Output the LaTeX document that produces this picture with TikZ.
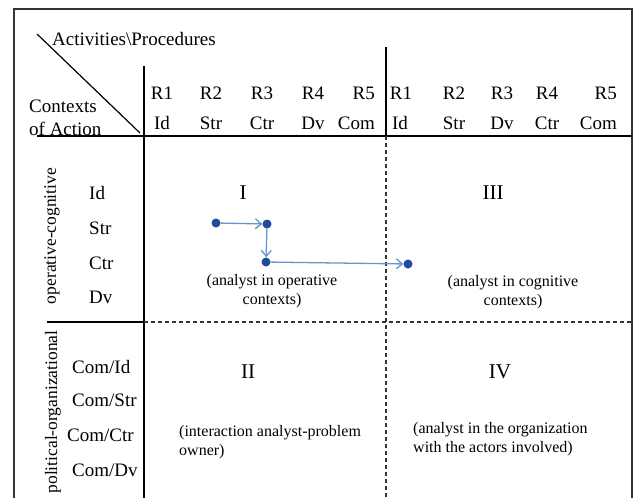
\documentclass[tikz,border=0pt]{standalone}
\usepackage{fontspec}
\setmainfont{Liberation Serif}
\usepackage{xcolor}
\usepackage{tikz}
\usetikzlibrary{arrows.meta}
\definecolor{mylineblue}{RGB}{100,150,205}
\definecolor{mydotblue}{RGB}{30,75,155}
\newcommand\mydotsize{9pt}
\pgfkeys{tikz/mytableenv/.style={x=1pt,y=-1pt,every node/.style={inner sep=0pt}}}
\pgfkeys{tikz/myframe/.style={draw=black!80,line width=1.6pt}}
\pgfkeys{tikz/myrule/.style={draw=black,line width=2pt}}
\pgfkeys{tikz/mydashrule/.style={draw=black!80,line width=1.4pt,dash pattern=on 4pt off 3pt}}
\pgfkeys{tikz/mylabel/.style={font=\fontsize{19}{23}\selectfont}}
\pgfkeys{tikz/myside/.style={font=\fontsize{17.5}{20}\selectfont,rotate=90}}
\pgfkeys{tikz/mynote/.style={font=\fontsize{16}{19}\selectfont,align=center}}
\pgfkeys{tikz/myroman/.style={font=\fontsize{21}{24}\selectfont}}
\pgfkeys{tikz/mydot/.style={circle,fill=mydotblue,minimum size=\mydotsize}}
\pgfkeys{tikz/myarrow/.style={draw=mylineblue,line width=1.3pt,-{Straight Barb[length=6pt,width=10pt]}}}

\begin{document}
\begin{tikzpicture}[mytableenv]
    \useasboundingbox (0,0) rectangle (636,498);
    \draw[myframe] (14,498) -- (14,9) -- (632,9) -- (632,498);
    \draw[line width=1.2pt] (37,34) -- (140,133);
    \draw[myrule] (37,136) -- (632,136);
    \draw[myrule] (144,66) -- (144,498);
    \draw[myrule] (47,322) -- (144,322);
    \draw[myrule] (386,47) -- (386,136);
    \draw[mydashrule] (386,136) -- (386,498);
    \draw[mydashrule] (144,322) -- (632,322);

    \node[mylabel,anchor=west] (title) at (52,39) {Activities\textbackslash Procedures};
    \node[mylabel,anchor=west,align=left] (ctx) at (29,118) {Contexts\\of Action};

    \node[mylabel] (ra1) at (162,93) {R1};
    \node[mylabel] (ra2) at (211,93) {R2};
    \node[mylabel] (ra3) at (262,93) {R3};
    \node[mylabel] (ra4) at (313,93) {R4};
    \node[mylabel,anchor=east] (ra5) at (375,93) {R5};
    \node[mylabel] (pa1) at (162,123) {Id};
    \node[mylabel] (pa2) at (211,123) {Str};
    \node[mylabel] (pa3) at (262,123) {Ctr};
    \node[mylabel] (pa4) at (313,123) {Dv};
    \node[mylabel,anchor=east] (pa5) at (375,123) {Com};
    \node[mylabel] (rb1) at (401,93) {R1};
    \node[mylabel] (rb2) at (454,93) {R2};
    \node[mylabel] (rb3) at (502,93) {R3};
    \node[mylabel] (rb4) at (547,93) {R4};
    \node[mylabel,anchor=east] (rb5) at (617,93) {R5};
    \node[mylabel] (pb1) at (400,123) {Id};
    \node[mylabel] (pb2) at (454,123) {Str};
    \node[mylabel] (pb3) at (502,123) {Dv};
    \node[mylabel] (pb4) at (547,123) {Ctr};
    \node[mylabel,anchor=east] (pb5) at (617,123) {Com};

    \node[myside] (opcog) at (52,236) {operative-cognitive};
    \node[myside] (polorg) at (53,412) {political-organizational};
    \node[mylabel,anchor=west] (ca1) at (89,193) {Id};
    \node[mylabel,anchor=west] (ca2) at (89,228) {Str};
    \node[mylabel,anchor=west] (ca3) at (89,263) {Ctr};
    \node[mylabel,anchor=west] (ca4) at (89,297) {Dv};
    \node[mylabel,anchor=west] (cb1) at (72,367) {Com/Id};
    \node[mylabel,anchor=west] (cb2) at (72,400) {Com/Str};
    \node[mylabel,anchor=west] (cb3) at (67,435) {Com/Ctr};
    \node[mylabel,anchor=west] (cb4) at (72,470) {Com/Dv};

    \node[myroman] (q1) at (243,193) {I};
    \node[myroman] (q3) at (493,193) {III};
    \node[myroman] (q2) at (248,372) {II};
    \node[myroman] (q4) at (500,372) {IV};
    \node[mynote] (n1) at (272,291) {(analyst in operative\\contexts)};
    \node[mynote] (n3) at (513,292) {(analyst in cognitive\\contexts)};
    \node[mynote,align=left,anchor=west] (n2) at (179,442) {(interaction analyst-problem\\owner)};
    \node[mynote,align=left,anchor=west] (n4) at (413,439) {(analyst in the organization\\with the actors involved)};

    \node[mydot] (d1) at (216,223) {};
    \node[mydot] (d2) at (267,224) {};
    \node[mydot] (d3) at (266,262) {};
    \node[mydot] (d4) at (408,264) {};
    \draw[myarrow] (d1) -- (d2);
    \draw[myarrow] (d2) -- (d3);
    \draw[myarrow] (d3) -- (d4);
\end{tikzpicture}
\end{document}
